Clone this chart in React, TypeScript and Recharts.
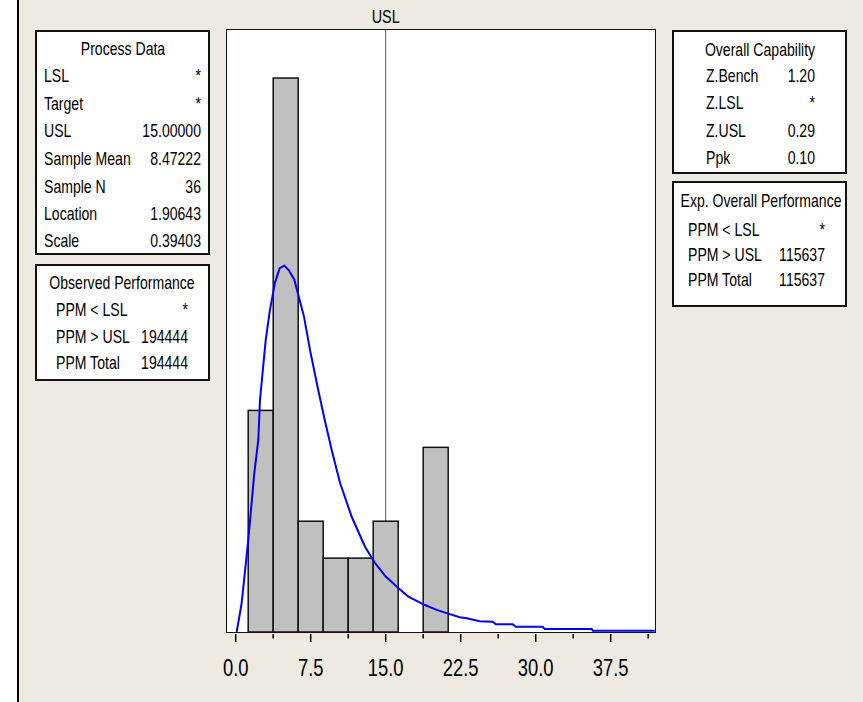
import React from "react";
import { Bar, ComposedChart, Line, ReferenceLine, XAxis, YAxis } from "recharts";

// histogram bins (centre, count)
const binCenters = [2.5, 5, 7.5, 10, 12.5, 15, 17.5, 20];
const binCounts = [6, 15, 3, 2, 2, 3, 0, 5];
const binWidth = 2.5;

// fitted lognormal curve (count scale)
const fitX = [0.1, 0.6, 1.26, 1.86, 2.26, 2.43, 3.0, 3.43, 3.93, 4.4, 4.86, 5.3, 5.86, 6.83, 7.43, 8.1, 8.83, 9.6, 10.43, 11.6, 12.93, 13.93, 15, 16.26, 17.26, 18.93, 20.1, 21.1, 22.4, 23.1, 24.4, 25.7, 26, 27.7, 28, 30.7, 30.9, 35.6, 35.7, 41.9];
const fitY = [0, 0.79, 2.5, 4.3, 5.2, 6.29, 7.9, 8.73, 9.46, 9.85, 9.92, 9.8, 9.54, 8.54, 7.64, 6.75, 5.83, 4.93, 4.04, 3.12, 2.31, 1.87, 1.5, 1.19, 0.96, 0.73, 0.6, 0.51, 0.4, 0.37, 0.29, 0.28, 0.21, 0.21, 0.14, 0.14, 0.08, 0.08, 0.035, 0.035];

const xTicks = [0, 3.75, 7.5, 11.25, 15, 18.75, 22.5, 26.25, 30, 33.75, 37.5, 41.25];
const majorTicks = ["0.0", "7.5", "15.0", "22.5", "30.0", "37.5"];
const usl = 15;
const xDomain = [-0.87, 41.93];

const processLabels = ["LSL", "Target", "USL", "Sample Mean", "Sample N", "Location", "Scale"];
const processValues = ["*", "*", "15.00000", "8.47222", "36", "1.90643", "0.39403"];
const observedLabels = ["PPM < LSL", "PPM > USL", "PPM Total"];
const observedValues = ["*", "194444", "194444"];
const capLabels = ["Z.Bench", "Z.LSL", "Z.USL", "Ppk"];
const capValues = ["1.20", "*", "0.29", "0.10"];
const expLabels = ["PPM < LSL", "PPM > USL", "PPM Total"];
const expValues = ["*", "115637", "115637"];

const bins = binCenters.map((x, i) => ({ x, count: binCounts[i] }));
const fit = fitX.map((x, i) => ({ x, y: fitY[i] }));

const FONT = '"Liberation Sans", Arial, sans-serif';
const BG = "#eeeae1";
const SQ = 0.76; // horizontal squeeze to mimic the condensed font

// plot area in page pixels
const PL = 227, PR = 655, PT = 30, PB = 632;
const pxPerUnit = (PR - PL) / (xDomain[1] - xDomain[0]);
const barPx = binWidth * pxPerUnit;

const txt: React.CSSProperties = {
  position: "absolute",
  fontFamily: FONT,
  fontSize: 18.5,
  color: "#000",
  lineHeight: "20px",
  whiteSpace: "nowrap",
};

function InfoBox(props: {
  left: number; top: number; width: number; height: number;
  title: string; titleY: number; titleX: number; labels: string[]; values: string[];
  rowYs: number[]; labelX: number; valueX: number;
}) {
  const { left, top, width, height, title, titleY, titleX, labels, values, rowYs, labelX, valueX } = props;
  return (
    <>
      <div style={{ position: "absolute", left, top, width, height, background: "#fff", border: "2px solid #111", boxSizing: "border-box" }} />
      <div style={{ ...txt, left: titleX - 150, width: 300, top: titleY - 10, textAlign: "center", transform: `scaleX(${SQ})` }}>{title}</div>
      {labels.map((l, i) => (
        <React.Fragment key={l}>
          <div style={{ ...txt, left: labelX, top: rowYs[i] - 10, transform: `scaleX(${SQ})`, transformOrigin: "left center" }}>{l}</div>
          <div style={{ ...txt, left: valueX - 100, width: 100, top: rowYs[i] - 10, textAlign: "right", transform: `scaleX(${SQ})`, transformOrigin: "right center" }}>{values[i]}</div>
        </React.Fragment>
      ))}
    </>
  );
}

// histogram column: centred on the scaled bin centre, one bin wide
function BinShape(props: any) {
  const { x, y, width, height } = props;
  const cx = x + (width || 0) / 2;
  const h = Math.max(height || 0, 0);
  return <rect x={cx - barPx / 2} y={y} width={barPx} height={h} fill="#c0c0c0" stroke="#111" strokeWidth={h > 0 ? 1.5 : 3} />;
}

function Tick(props: any) {
  const { x, y, payload } = props;
  const v = payload.value as number;
  const idx = xTicks.indexOf(v);
  const major = idx % 2 === 0;
  return (
    <g>
      <line x1={x} x2={x} y1={y} y2={y + (major ? 8 : 4.5)} stroke="#000" strokeWidth={1.5} />
      {major && (
        <text transform={`translate(${x},${y + 34}) scale(0.8,1)`} textAnchor="middle" dominantBaseline="central" fontFamily={FONT} fontSize={23} fill="#000">
          {majorTicks[idx / 2]}
        </text>
      )}
    </g>
  );
}

function UslLabel(props: any) {
  const vb = props.viewBox || {};
  return (
    <text transform={`translate(${vb.x},${vb.y - 14}) scale(0.8,1)`} textAnchor="middle" dominantBaseline="central" fontFamily={FONT} fontSize={18} fill="#000">
      USL
    </text>
  );
}

export default function App() {
  return (
    <div style={{ position: "absolute", left: 0, top: 0, width: 863, height: 702, background: BG, overflow: "hidden" }}>
      <div style={{ position: "absolute", left: 0, top: 0, width: 17, height: 702, background: "#fff", borderRight: "2px solid #000" }} />

      <InfoBox left={35} top={30} width={175} height={225} title="Process Data" titleY={49} titleX={123}
        labels={processLabels} values={processValues} rowYs={[76, 104, 131, 159, 187, 214, 241]} labelX={44} valueX={201} />
      <InfoBox left={35} top={264} width={175} height={117} title="Observed Performance" titleY={283} titleX={122}
        labels={observedLabels} values={observedValues} rowYs={[310, 337, 363]} labelX={56} valueX={188} />
      <InfoBox left={672} top={30} width={175} height={144} title="Overall Capability" titleY={50} titleX={760}
        labels={capLabels} values={capValues} rowYs={[76, 103, 131, 158]} labelX={706} valueX={815} />
      <InfoBox left={672} top={181} width={175} height={126} title="Exp. Overall Performance" titleY={201} titleX={761}
        labels={expLabels} values={expValues} rowYs={[230, 255, 280]} labelX={688} valueX={825} />

      <div style={{ position: "absolute", left: PL - 1, top: PT - 1, width: PR - PL + 2, height: PB - PT + 2, background: "#fff", border: "1.5px solid #111", boxSizing: "border-box" }} />

      <div style={{ position: "absolute", left: 0, top: 0 }}>
        <ComposedChart
          width={863}
          height={702}
          data={bins}
          barCategoryGap={0}
          barGap={0}
          margin={{ top: PT, right: 863 - PR, left: PL, bottom: 30 }}
        >
          <XAxis
            dataKey="x"
            type="number"
            domain={xDomain}
            ticks={xTicks}
            interval={0}
            height={40}
            axisLine={false}
            tickLine={false}
            tickSize={0}
            tick={<Tick />}
            allowDataOverflow
          />
          <YAxis hide domain={[0, 16.3]} allowDataOverflow />
          <ReferenceLine x={usl} stroke="#555" strokeWidth={1} label={<UslLabel />} zIndex={0} />
          <Bar dataKey="count" shape={<BinShape />} isAnimationActive={false} />
          <Line data={fit} dataKey="y" type="linear" dot={false} stroke="#0000ff" strokeWidth={2} isAnimationActive={false} />
        </ComposedChart>
      </div>
    </div>
  );
}
